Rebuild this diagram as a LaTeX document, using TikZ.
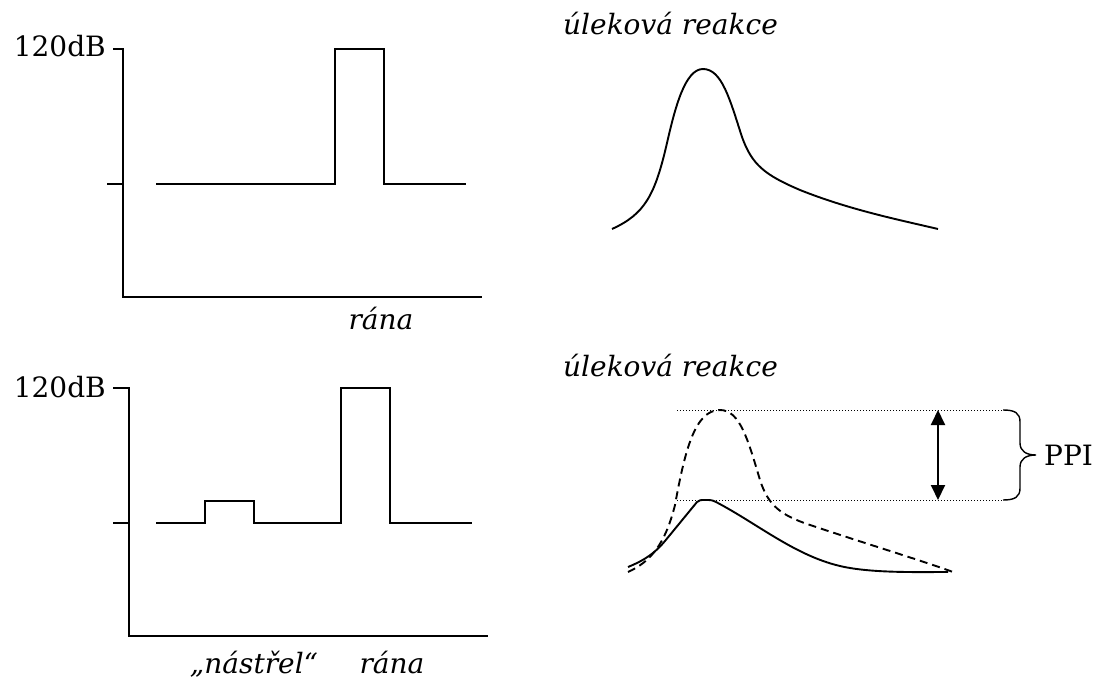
\documentclass[tikz,border=0pt]{standalone}
\usepackage{fontspec}
\setmainfont{DejaVu Serif}
\usetikzlibrary{arrows.meta}
\begin{document}
\begin{tikzpicture}[x=1pt,y=-1pt,
  ln/.style={line width=1.9pt, line join=miter},
  lbl/.style={font=\fontsize{28}{32}\selectfont, inner sep=0pt},
  ilbl/.style={inner sep=0pt, font=\fontsize{28}{32}\selectfont\itshape},
  dotline/.style={line width=0.9pt, dash pattern=on 1pt off 2pt},
  dashline/.style={ln, dash pattern=on 8pt off 5pt},
  dblarrow/.style={line width=1.9pt, {Triangle[length=15pt,width=14pt]}-{Triangle[length=15pt,width=14pt]}}]
\useasboundingbox (0,0) rectangle (1093,679);

% ---------- top left ----------
\draw[ln] (113,49) -- (123,49) -- (123,297) -- (482,297);
\draw[ln] (107,184) -- (123,184);
\draw[ln] (156,184) -- (335,184) -- (335,49) -- (384,49) -- (384,184) -- (466,184);
\node[lbl, anchor=base east] (dbA) at (106,57) {120dB};
\node[ilbl, anchor=base] (ranaA) at (381,330) {rána};

% ---------- bottom left ----------
\draw[ln] (113,388) -- (129,388) -- (129,636) -- (488,636);
\draw[ln] (113,523) -- (129,523);
\draw[ln] (156,523) -- (205,523) -- (205,501) -- (254,501) -- (254,523) -- (341,523) -- (341,388) -- (390,388) -- (390,523) -- (472,523);
\node[lbl, anchor=base east] (dbB) at (106,397) {120dB};
\node[ilbl, anchor=base] (nastrel) at (254,673) {„nástřel“};
\node[ilbl, anchor=base] (ranaB) at (392,673) {rána};

% ---------- top right ----------
\node[ilbl, anchor=base west] (ulA) at (563,35) {úleková reakce};
\draw[ln] (612,229) .. controls (645,214) and (655,195) .. (667,143)
  .. controls (675,108) and (685,69) .. (703,69)
  .. controls (722,69) and (730,100) .. (742,137)
  .. controls (752,165) and (765,175) .. (800,190)
  .. controls (850,210) and (900,220) .. (938,229);

% ---------- bottom right ----------
\node[ilbl, anchor=base west] (ulB) at (563,376) {úleková reakce};
\draw[dashline] (628,572) .. controls (650,562) and (665,545) .. (675,505)
  .. controls (685,450) and (695,410) .. (720,410)
  .. controls (740,410) and (748,440) .. (760,480)
  .. controls (768,505) and (780,515) .. (810,525)
  .. controls (870,545) and (920,560) .. (953,572);
\draw[ln] (628,567) .. controls (645,560) and (655,553) .. (665,541) -- (697,502)
  .. controls (699,500) and (701,500) .. (705,500)
  .. controls (711,500) and (712,500) .. (716,502)
  .. controls (760,525) and (800,560) .. (850,568)
  .. controls (880,573) and (920,572) .. (948,572);
\draw[dotline] (677,410) -- (1003,410);
\draw[dotline] (677,500) -- (1003,500);
\coordinate (atop) at (938,410);
\coordinate (abot) at (938,500);
\draw[dblarrow] (atop) -- (abot);
\draw[line width=1.4pt] (1003,410) .. controls (1015,410) and (1020,413) .. (1020,422) -- (1020,443) .. controls (1020,451) and (1026,455) .. (1036,455)
  .. controls (1026,455) and (1020,459) .. (1020,467) -- (1020,488) .. controls (1020,497) and (1015,500) .. (1003,500);
\node[lbl, anchor=base west] (ppi) at (1044,465) {PPI};
\end{tikzpicture}
\end{document}
